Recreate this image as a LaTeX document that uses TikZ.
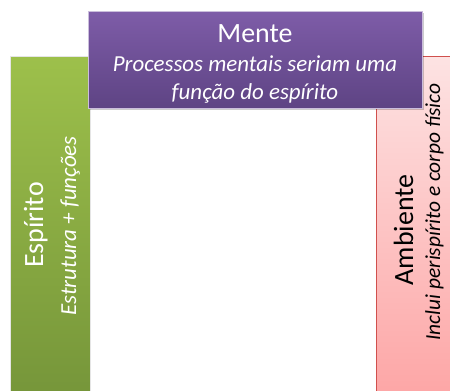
\documentclass[tikz,border=0pt]{standalone}
\usepackage{fontspec}
\setmainfont{Carlito}
\usetikzlibrary{positioning}
\definecolor{menteTop}{HTML}{7E5CA8}
\definecolor{menteBot}{HTML}{5E4484}
\definecolor{espTop}{HTML}{9DC04B}
\definecolor{espBot}{HTML}{76963A}
\definecolor{ambTop}{HTML}{FDE3E3}
\definecolor{ambBot}{HTML}{FDA6A6}
\definecolor{ambLine}{HTML}{D0504D}
\tikzset{titulo/.style={font=\fontsize{28}{32}\selectfont,inner sep=0pt,anchor=base}}
\tikzset{legenda/.style={font=\fontsize{23}{27}\selectfont\itshape,inner sep=0pt,anchor=base}}

\begin{document}
\begin{tikzpicture}[x=1bp,y=-1bp]
  \useasboundingbox (0,0) rectangle (450,390);
  \clip (0,0) rectangle (450,390);
  % caixas
  \draw[white!80!gray,top color=espTop,bottom color=espBot] (10,56) rectangle (90,394);
  \draw[ambLine,top color=ambTop,bottom color=ambBot] (376,56) rectangle (454,394);
  \fill[black,opacity=.2] (90,13) rectangle (424,110);
  \draw[white!60!menteTop,top color=menteTop,bottom color=menteBot] (88,11) rectangle (422,108);
  % textos
  \node[titulo,white] (mente) at (255,42) {Mente};
  \node[legenda,white] (menteA) at (255,71) {Processos mentais seriam uma};
  \node[legenda,white] (menteB) at (255,99) {função do espírito};
  \node[titulo,white,rotate=90] (espirito) at (43,225) {Espírito};
  \node[legenda,white,rotate=90] (espiritoA) at (76,226) {Estrutura + funções};
  \node[titulo,rotate=90] (ambiente) at (413,230) {Ambiente};
  \node[legenda,rotate=90,font=\fontsize{21.5}{25}\selectfont\itshape] (ambienteA) at (440,212) {Inclui perispírito e corpo físico};
\end{tikzpicture}
\end{document}
